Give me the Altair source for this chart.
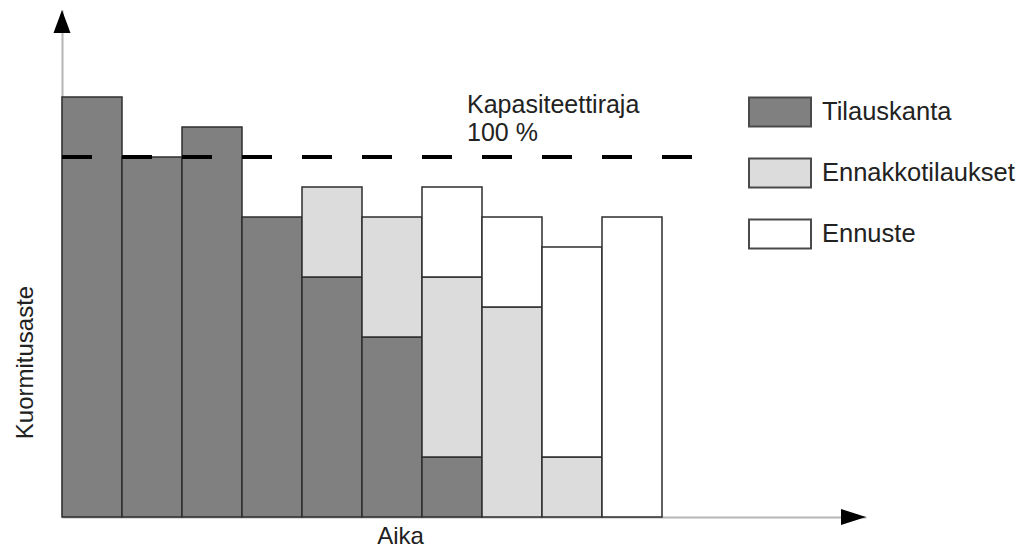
import altair as alt
import pandas as pd

# ---- data (units of load; capacity = 12 units = 100 %) ----
periods = [1, 2, 3, 4, 5, 6, 7, 8, 9, 10]
tilauskanta = [14, 12, 13, 10, 8, 6, 2, 0, 0, 0]
ennakkotilaukset = [0, 0, 0, 0, 3, 4, 6, 7, 2, 0]
ennuste = [0, 0, 0, 0, 0, 0, 3, 3, 7, 10]
series_names = ["Tilauskanta", "Ennakkotilaukset", "Ennuste"]
series_colors = ["#808080", "#dcdcdc", "#ffffff"]
capacity_level = 12
capacity_end = 10.5
capacity_label = ["Kapasiteettiraja", "100 %"]
capacity_label_x = 6.75
x_title = "Aika"
y_title = "Kuormitusaste"
X_MAX = 13.4
Y_MAX = 16.9

FONT = "Liberation Sans"
TXT = "#222222"

rows = []
for i, p in enumerate(periods):
    base = 0
    for name, vals in zip(series_names, [tilauskanta, ennakkotilaukset, ennuste]):
        v = vals[i]
        if v > 0:
            rows.append({"x0": p - 1, "x1": p, "y0": base, "y1": base + v, "series": name})
            base += v
bars_df = pd.DataFrame(rows)

xscale = alt.Scale(domain=[0, X_MAX], nice=False, zero=True)
yscale = alt.Scale(domain=[0, Y_MAX], nice=False, zero=True)

x_axis = alt.Axis(
    title=x_title, domain=True, domainColor="#b5b5b5", domainWidth=2,
    ticks=False, labels=False, grid=False,
    titleFont=FONT, titleFontSize=24, titleFontWeight="normal", titleColor=TXT,
    titleX=338, titleY=26, titleAlign="center", titleBaseline="alphabetic",
)
y_axis = alt.Axis(
    title=y_title, domain=True, domainColor="#b5b5b5", domainWidth=2,
    ticks=False, labels=False, grid=False,
    titleFont=FONT, titleFontSize=24, titleFontWeight="normal", titleColor=TXT,
    titleX=-30, titleY=352, titleAngle=270, titleAlign="center", titleBaseline="alphabetic",
)

bars = alt.Chart(bars_df).mark_bar(stroke="#2e2e2e", strokeWidth=1.5, opacity=1).encode(
    x=alt.X("x0:Q", scale=xscale, axis=x_axis),
    x2="x1:Q",
    y=alt.Y("y0:Q", scale=yscale, axis=y_axis),
    y2="y1:Q",
    fill=alt.Fill(
        "series:N",
        scale=alt.Scale(domain=series_names, range=series_colors),
        legend=alt.Legend(
            title=None, orient="none", legendX=686, legendY=70, padding=0,
            symbolType="M-1,-0.468L1,-0.468L1,0.468L-1,0.468Z", symbolSize=3844,
            symbolStrokeColor="#4a4a4a", symbolStrokeWidth=2, symbolOpacity=1,
            labelFont=FONT, labelFontSize=25.5, labelColor=TXT, labelOffset=10,
            rowPadding=10, labelLimit=400,
        ),
    ),
)

cap_df = pd.DataFrame({"x0": [0], "x1": [capacity_end], "y": [capacity_level]})
cap_rule = alt.Chart(cap_df).mark_rule(color="black", strokeWidth=4, strokeDash=[30, 30]).encode(
    x=alt.X("x0:Q", scale=xscale, axis=x_axis),
    x2="x1:Q",
    y=alt.Y("y:Q", scale=yscale, axis=y_axis),
)

lbl_df = pd.DataFrame({"x": [capacity_label_x], "y": [capacity_level], "t": ["\n".join(capacity_label)]})
cap_text = alt.Chart(lbl_df).mark_text(
    align="left", baseline="alphabetic", dy=-44, lineBreak="\n", lineHeight=28,
    font=FONT, fontSize=25, color=TXT,
).encode(
    x=alt.X("x:Q", scale=xscale, axis=x_axis),
    y=alt.Y("y:Q", scale=yscale, axis=y_axis),
    text="t:N",
)

arrow_df = pd.DataFrame({"x": [0], "y": [Y_MAX]})
y_arrow = alt.Chart(arrow_df).mark_point(
    shape="M0,0L-0.74,2L0.74,2Z", size=529, filled=True, fill="black", stroke="black",
    strokeWidth=0, opacity=1,
).encode(
    x=alt.X("x:Q", scale=xscale, axis=x_axis),
    y=alt.Y("y:Q", scale=yscale, axis=y_axis),
)
xarrow_df = pd.DataFrame({"x": [X_MAX], "y": [0]})
x_arrow = alt.Chart(xarrow_df).mark_point(
    shape="M0,0L-2,-0.64L-2,0.64Z", size=625, filled=True, fill="black", stroke="black",
    strokeWidth=0, opacity=1,
).encode(
    x=alt.X("x:Q", scale=xscale, axis=x_axis),
    y=alt.Y("y:Q", scale=yscale, axis=y_axis),
)

chart = alt.layer(bars, cap_rule, cap_text, y_arrow, x_arrow).properties(
    width=804, height=507,
    padding={"left": 62, "top": 10, "right": 156, "bottom": 33},
    autosize=alt.AutoSizeParams(type="none"),
    background="white",
).configure_view(stroke="transparent")

chart.save("out.html", embed_options={"renderer": "svg", "actions": False})
